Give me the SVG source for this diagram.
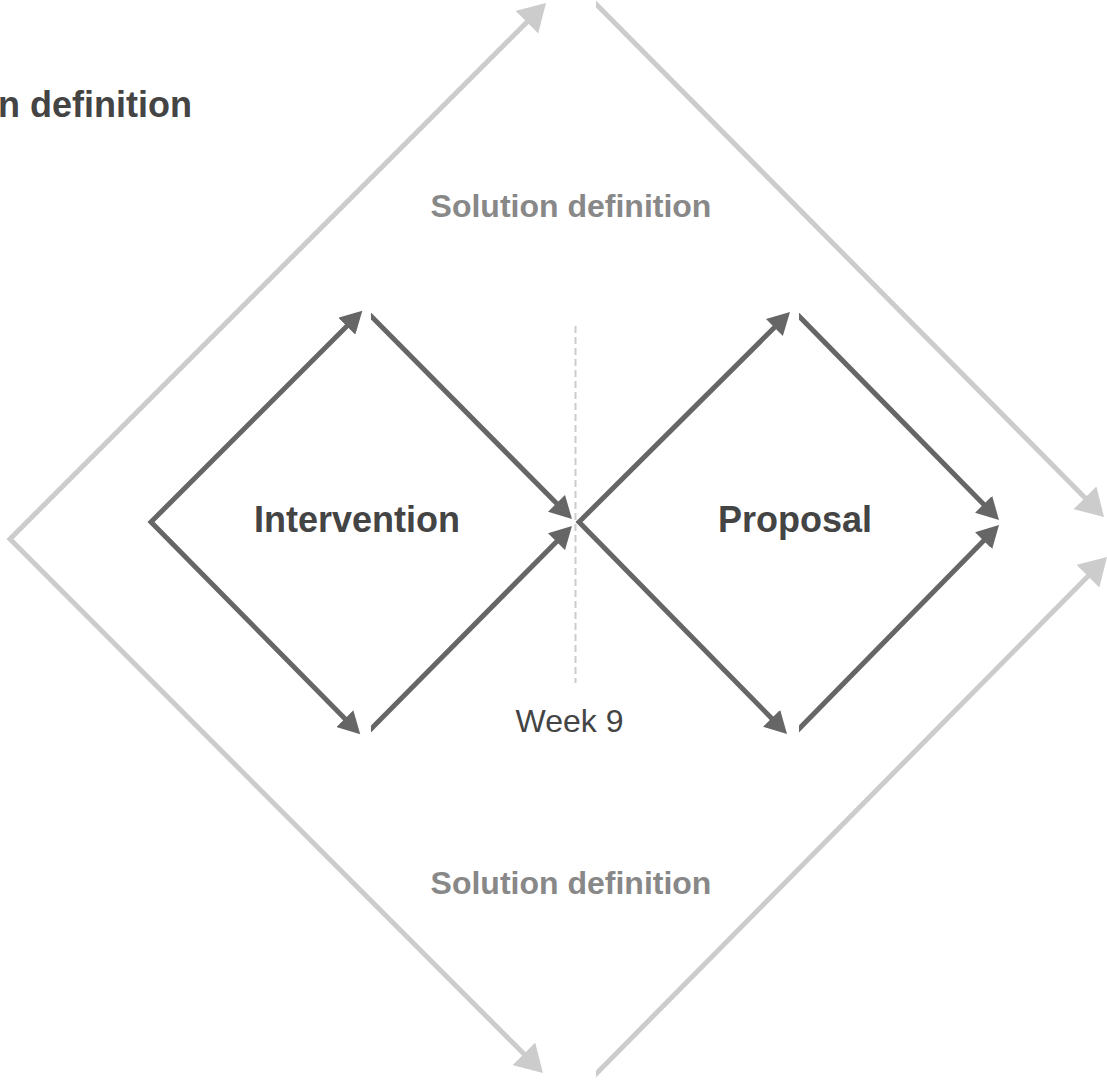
<svg xmlns="http://www.w3.org/2000/svg" width="1107" height="1080" viewBox="0 0 1107 1080">
<style>
  .dark { fill: none; stroke: #666666; stroke-width: 5; stroke-linejoin: miter; stroke-miterlimit: 10; }
  .light { fill: none; stroke: #cccccc; stroke-width: 5; stroke-linejoin: miter; stroke-miterlimit: 10; }
  .da { marker-start: url(#ad); marker-end: url(#ad); }
  .de { marker-end: url(#ad); }
  .la { marker-start: url(#al); marker-end: url(#al); }
  .le { marker-end: url(#al); }
  .title { font-family: "Liberation Sans", Arial, sans-serif; font-weight: bold; font-size: 36px; fill: #444444; }
  .phase { font-family: "Liberation Sans", Arial, sans-serif; font-weight: bold; font-size: 32px; fill: #888888; text-anchor: middle; }
  .node { font-family: "Liberation Sans", Arial, sans-serif; font-weight: bold; font-size: 36px; fill: #444444; text-anchor: middle; }
  .week { font-family: "Liberation Sans", Arial, sans-serif; font-size: 32px; fill: #444444; text-anchor: middle; }
</style>
<defs>
  <marker id="ad" markerUnits="userSpaceOnUse" markerWidth="23" markerHeight="24" refX="1" refY="12" orient="auto-start-reverse">
    <path d="M0,0 L22,12 L0,24 z" fill="#666666"/>
  </marker>
  <marker id="al" markerUnits="userSpaceOnUse" markerWidth="28" markerHeight="32" refX="1" refY="16" orient="auto-start-reverse">
    <path d="M0,0 L27,16 L0,32 z" fill="#cccccc"/>
  </marker>
  <clipPath id="cutOuter"><rect x="596" y="0" width="511" height="1080"/></clipPath>
  <clipPath id="cutLeft"><rect x="371" y="0" width="300" height="1080"/></clipPath>
  <clipPath id="cutRight"><rect x="799" y="0" width="308" height="1080"/></clipPath>
</defs>
<rect width="1107" height="1080" fill="#ffffff"/>

<g id="connectors">
  <!-- outer light diamond -->
  <path class="light la" d="M527.6,21.4 L10,539 L524.6,1054.6"/>
  <g clip-path="url(#cutOuter)">
    <path class="light le" d="M592,0 L1085.7,498.5"/>
    <path class="light le" d="M592,1078 L1088.7,575.5"/>
  </g>
  <!-- left inner diamond -->
  <path class="dark da" d="M347.5,325.5 L151,522 L345.5,719.3"/>
  <g clip-path="url(#cutLeft)">
    <path class="dark de" d="M368,313 L557.2,504.1"/>
    <path class="dark de" d="M368,732 L557.2,540.9"/>
  </g>
  <!-- right inner diamond -->
  <path class="dark da" d="M775.1,326.8 L579,522 L772.3,719"/>
  <g clip-path="url(#cutRight)">
    <path class="dark de" d="M796,313 L984.3,505"/>
    <path class="dark de" d="M796,732 L984.3,540"/>
  </g>
  <!-- week divider -->
  <line x1="575.5" y1="326" x2="575.5" y2="683" stroke="#cccccc" stroke-width="2" stroke-dasharray="7 4"/>
</g>

<g id="title-label"><text class="title" x="-2" y="117">n definition</text></g>
<g id="solution-top"><text class="phase" x="571" y="217">Solution definition</text></g>
<g id="solution-bottom"><text class="phase" x="571" y="894">Solution definition</text></g>
<g id="intervention"><text class="node" x="357" y="532">Intervention</text></g>
<g id="proposal"><text class="node" x="795" y="532">Proposal</text></g>
<g id="week9"><text class="week" x="569.5" y="732">Week 9</text></g>
</svg>
